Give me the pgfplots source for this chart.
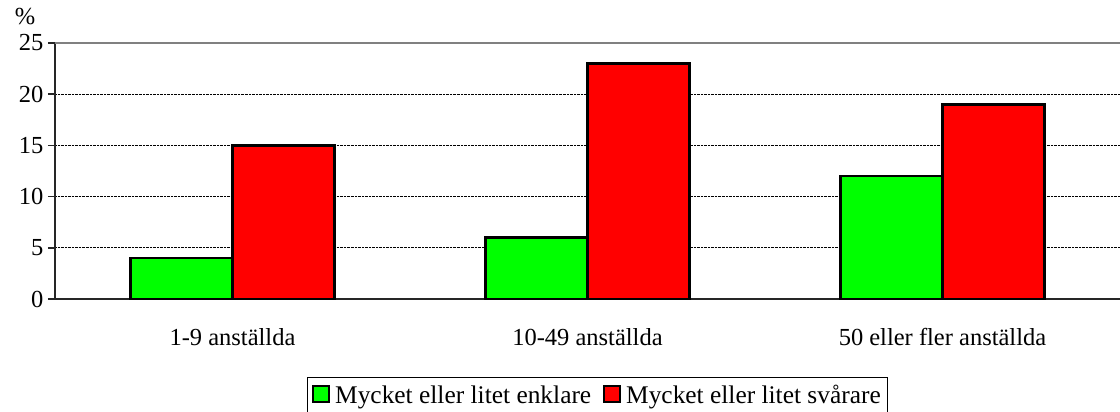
\documentclass[border=0pt]{standalone}
\usepackage{pgfplots}
\pgfplotsset{compat=1.18}
\usepackage{fontspec}
\setmainfont{Liberation Serif}
\definecolor{bgreen}{RGB}{0,255,0}
\definecolor{bred}{RGB}{255,0,0}
\newcommand{\bigfont}{\fontsize{24.5bp}{28bp}\selectfont}
\newcommand{\legfont}{\fontsize{25.4bp}{29bp}\selectfont}
\begin{document}
\begin{tikzpicture}
\path[use as bounding box] (-55bp,-113bp) rectangle (1065bp,299bp);
\begin{axis}[
  scale only axis,
  width=1065bp, height=256bp,
  xmin=-0.5, xmax=2.5,
  ymin=0, ymax=25,
  axis x line*=bottom, axis y line*=left,
  axis line style={black!85, line width=1.5bp},
  ybar=0pt, bar width=0.2873,
  xtick={0,1,2},
  xticklabels={1-9 anställda,10-49 anställda,50 eller fler anställda},
  major x tick style={draw=none},
  extra x ticks={-0.5,0.5,1.5,2.5},
  extra x tick labels={},
  extra x tick style={tick align=outside, major tick length=7bp, tick style={black!85, line width=1.5bp}, grid=none},
  ytick={0,5,10,15,20,25},
  tick align=outside,
  major tick length=7bp,
  ytick style={black!85, line width=1.5bp},
  ymajorgrids,
  grid style={black, densely dotted, line width=0.8bp},
  /pgf/number format/assume math mode=true,
  tick label style={font=\bigfont},
  yticklabel style={xshift=-1bp},
  xticklabel style={anchor=base, yshift=-39bp},
  legend columns=2,
  legend style={at={(axis description cs:0.5094,-0.3035)}, anchor=north,
    draw=black, line width=0.8bp, font=\legfont,
    inner xsep=5bp, inner ysep=6bp,
    /tikz/every odd column/.append style={column sep=3bp},
    /tikz/every even column/.append style={column sep=10bp},
    nodes={inner sep=2bp}},
  legend image code/.code={\draw[#1, line width=2bp] (0bp,-6.5bp) rectangle (16bp,9.5bp);},
]
\addplot[draw=black, line width=2.6bp, fill=bgreen] coordinates {(0,4) (1,6) (2,12)};
\addplot[draw=black, line width=2.6bp, fill=bred] coordinates {(0,15) (1,23) (2,19)};
\legend{Mycket eller litet enklare,Mycket eller litet svårare}
\draw[black!50, line width=2bp] (axis cs:-0.5,25) -- (axis cs:2.5,25);
\end{axis}
\node[anchor=base, font=\bigfont] at (-30bp,274bp) {\%};
\end{tikzpicture}
\end{document}
